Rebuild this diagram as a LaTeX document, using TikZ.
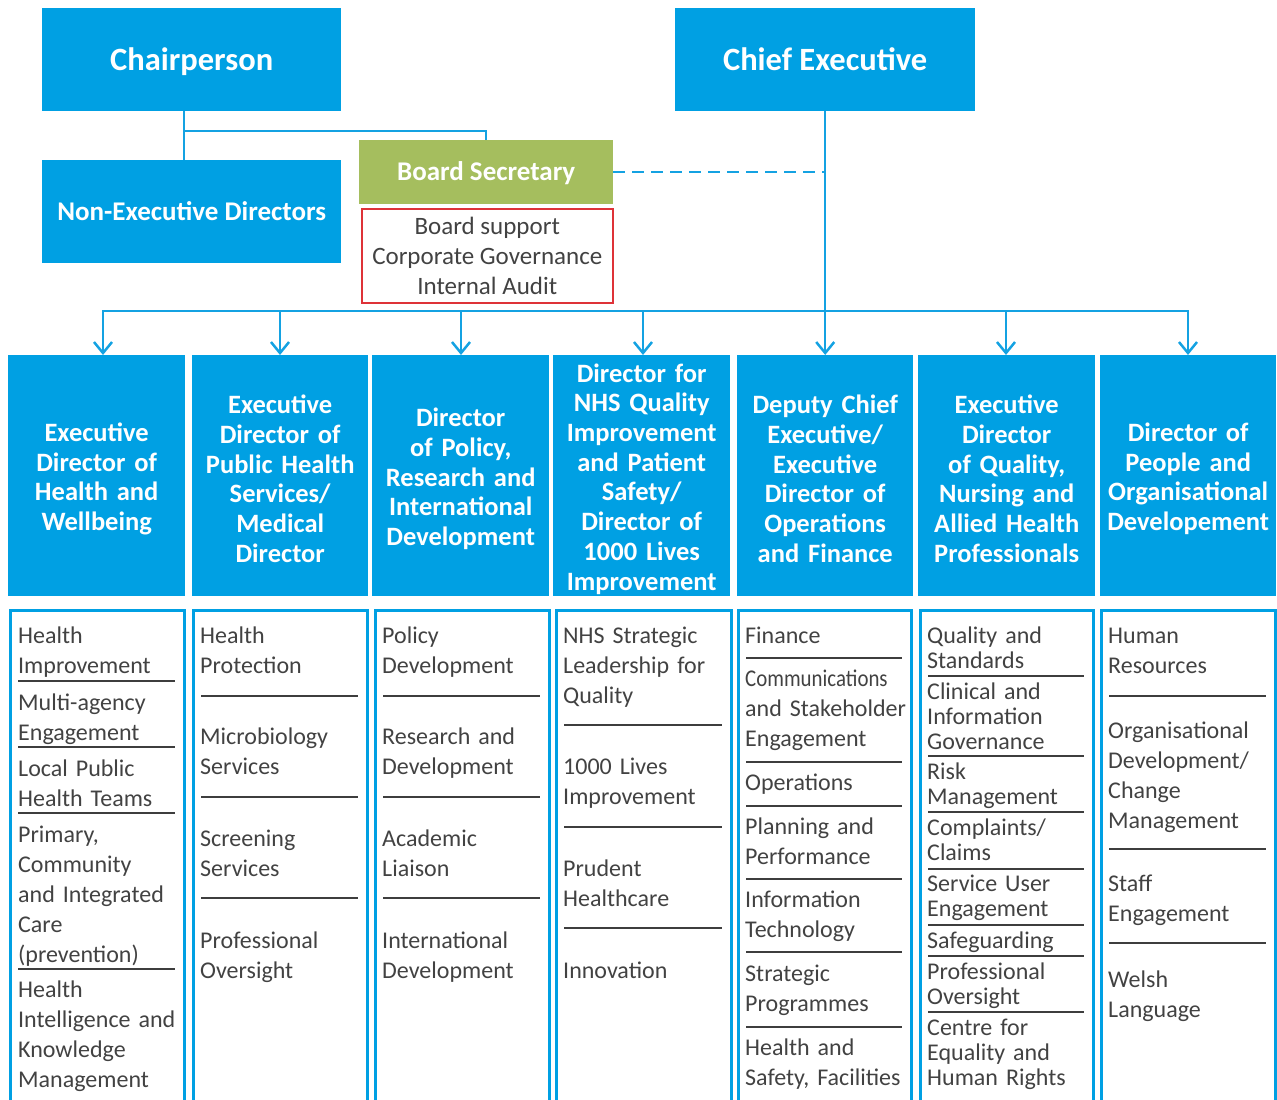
\documentclass[tikz,border=0pt]{standalone}
\usepackage{fontspec}
\usepackage{graphicx}
\setmainfont{Carlito}
\usetikzlibrary{arrows.meta}
\definecolor{nhsblue}{RGB}{0,160,227}
\definecolor{lineblue}{RGB}{20,162,226}
\definecolor{bsgreen}{RGB}{165,190,94}
\definecolor{bsred}{RGB}{222,50,56}
\definecolor{sepgray}{RGB}{62,62,62}
\definecolor{itemgray}{RGB}{66,66,66}
\newcommand\boxnode[7]{%
  \node[#6, anchor=north west, inner sep=0pt,
        minimum width={(#4-#2)*1pt}, minimum height={(#5-#3)*1pt}] (#1) at (#2,#3) {#7};}
\newcommand\itm[5][]{\node[itm,#1] (#2) at (#3,#4-20) {\rule{0pt}{20pt}#5};}
\newcommand\sepl[3]{\draw[sepline] (#1,#3) -- (#2,#3);}
\newcommand\dtop{\rule{0pt}{25pt}}
\begin{document}
\begin{tikzpicture}[x=1pt,y=-1pt,
  conn/.style={draw=lineblue, line width=2.5pt},
  bluebox/.style={fill=nhsblue, text=white, font=\bfseries\fontsize{27}{30}\selectfont, text height=17.4pt, text depth=0pt},
  bigbox/.style={fill=nhsblue, text=white, font=\bfseries\fontsize{32.5}{36}\selectfont, text height=21pt, text depth=0pt},
  greenbox/.style={fill=bsgreen, text=white, font=\bfseries\fontsize{27}{30}\selectfont, text height=17.4pt, text depth=0pt},
  redbox/.style={draw=bsred, line width=1.5pt, text=itemgray, font=\fontsize{25}{30}\selectfont, align=center},
  dirbox/.style={fill=nhsblue, text=white, font=\bfseries\fontsize{26.5}{29.7}\selectfont, align=center, text width=176pt},
  listbox/.style={draw=nhsblue, line width=2.7pt},
  itm/.style={anchor=north west, inner sep=0pt, text width=172pt, align=left, text=itemgray, font=\fontsize{24}{30}\selectfont},
  tight/.style={font=\fontsize{24}{25}\selectfont},
  sepline/.style={draw=sepgray, line width=2pt},
  tip/.style={-{Straight Barb[length=11pt,width=18pt]}},
  tips/.style={{Straight Barb[length=11pt,width=18pt]}-{Straight Barb[length=11pt,width=18pt]}}
]
\useasboundingbox (0,0) rectangle (1277,1100);

% top level
\boxnode{chair}{42}{8}{341}{111}{bigbox}{Chairperson}
\boxnode{ce}{675}{8}{975}{111}{bigbox}{Chief Executive}
\boxnode{nonexec}{42}{160}{341}{263}{bluebox}{Non-Executive Directors}
\boxnode{bs}{359}{140}{613}{204}{greenbox}{Board Secretary}
\boxnode{bsr}{361}{208}{612}{302}{redbox}{Board support\\Corporate Governance\\Internal Audit}

% directors
\boxnode{d1}{8}{355}{185}{596}{dirbox}{\dtop Executive\\Director of\\Health and\\Wellbeing}
\boxnode{d2}{192}{355}{368}{596}{dirbox}{\dtop Executive\\Director of\\Public Health\\Services/\\Medical\\Director}
\boxnode{d3}{372}{355}{549}{596}{dirbox}{\dtop Director\\of Policy,\\Research and\\International\\Development}
\boxnode{d4}{553}{355}{730}{596}{dirbox}{\dtop Director for\\NHS Quality\\Improvement\\and Patient\\Safety/\\Director of\\1000 Lives\\Improvement}
\boxnode{d5}{737}{355}{913}{596}{dirbox}{\dtop Deputy Chief\\Executive/\\Executive\\Director of\\Operations\\and Finance}
\boxnode{d6}{918}{355}{1095}{596}{dirbox}{\dtop Executive\\Director\\of Quality,\\Nursing and\\Allied Health\\Professionals}
\boxnode{d7}{1100}{355}{1276}{596}{dirbox}{\dtop Director of\\People and\\Organisational\\Developement}

% list boxes
\boxnode{l1}{9}{609}{183}{1112}{listbox}{}
\boxnode{l2}{192}{609}{366}{1112}{listbox}{}
\boxnode{l3}{374}{609}{548}{1112}{listbox}{}
\boxnode{l4}{555}{609}{730}{1112}{listbox}{}
\boxnode{l5}{737}{609}{910}{1112}{listbox}{}
\boxnode{l6}{919}{609}{1092}{1112}{listbox}{}
\boxnode{l7}{1100}{609}{1274}{1112}{listbox}{}

% connectors
\coordinate (cj) at (184,131);
\draw[conn] (chair.south -| cj) -- (nonexec.north -| cj);
\draw[conn] (cj) -| (bs.north);
\draw[conn, dash pattern=on 12pt off 7pt] (bs.east) -- (bs.east -| ce.south);
\coordinate (b1) at (103,311);
\coordinate (b2) at (280,311);
\coordinate (b3) at (461,311);
\coordinate (b4) at (643,311);
\coordinate (b6) at (1006,311);
\coordinate (b7) at (1188,311);
\draw[conn, tips, line join=miter] (b1 |- d1.north) -- (b1) -- (b7) -- (b7 |- d7.north);
\draw[conn, tip] (b2) -- (b2 |- d2.north);
\draw[conn, tip] (b3) -- (b3 |- d3.north);
\draw[conn, tip] (b4) -- (b4 |- d4.north);
\draw[conn, tip] (ce.south) -- (ce.south |- d5.north);
\draw[conn, tip] (b6) -- (b6 |- d6.north);

% column 1
\itm{c1a}{18}{643}{Health\\Improvement}
\sepl{18}{175}{681}
\itm{c1b}{18}{710}{Multi-agency\\Engagement}
\sepl{18}{175}{747}
\itm{c1c}{18}{776}{Local Public\\Health Teams}
\sepl{18}{175}{813}
\itm{c1d}{18}{842}{Primary,\\Community\\and Integrated\\Care\\(prevention)}
\sepl{18}{175}{969}
\itm{c1e}{18}{997}{Health\\Intelligence and\\Knowledge\\Management}

% column 2
\itm{c2a}{200}{643}{Health\\Protection}
\sepl{201}{358}{696}
\itm{c2b}{200}{744}{Microbiology\\Services}
\sepl{201}{358}{797}
\itm{c2c}{200}{846}{Screening\\Services}
\sepl{201}{358}{898}
\itm{c2d}{200}{948}{Professional\\Oversight}

% column 3
\itm{c3a}{382}{643}{Policy\\Development}
\sepl{383}{540}{696}
\itm{c3b}{382}{744}{Research and\\Development}
\sepl{383}{540}{797}
\itm{c3c}{382}{846}{Academic\\Liaison}
\sepl{383}{540}{898}
\itm{c3d}{382}{948}{International\\Development}

% column 4
\itm{c4a}{563}{643}{NHS Strategic\\Leadership for\\Quality}
\sepl{564}{722}{725}
\itm{c4b}{563}{774}{1000 Lives\\Improvement}
\sepl{564}{722}{827}
\itm{c4c}{563}{876}{Prudent\\Healthcare}
\sepl{564}{722}{928}
\itm{c4d}{563}{978}{Innovation}

% column 5
\itm{c5a}{745}{643}{Finance}
\sepl{746}{902}{658}
\itm{c5b}{745}{686}{\scalebox{0.87}[1]{Communications}\\and Stakeholder\\Engagement}
\sepl{746}{902}{762}
\itm{c5c}{745}{790}{Operations}
\sepl{746}{902}{806}
\itm{c5d}{745}{834}{Planning and\\Performance}
\sepl{746}{902}{879}
\itm{c5e}{745}{907}{Information\\Technology}
\sepl{746}{902}{952}
\itm{c5f}{745}{981}{Strategic\\Programmes}
\sepl{746}{902}{1027}
\itm{c5g}{745}{1055}{Health and\\Safety, Facilities}

% column 6
\itm[tight]{c6a}{927}{643}{Quality and\\Standards}
\sepl{928}{1084}{676}
\itm[tight]{c6b}{927}{699}{Clinical and\\Information\\Governance}
\sepl{928}{1084}{756}
\itm[tight]{c6c}{927}{779}{Risk\\Management}
\sepl{928}{1084}{812}
\itm[tight]{c6d}{927}{835}{Complaints/\\Claims}
\sepl{928}{1084}{869}
\itm[tight]{c6e}{927}{891}{Service User\\Engagement}
\sepl{928}{1084}{925}
\itm[tight]{c6f}{927}{948}{Safeguarding}
\sepl{928}{1084}{956}
\itm[tight]{c6g}{927}{979}{Professional\\Oversight}
\sepl{928}{1084}{1012}
\itm[tight]{c6h}{927}{1035}{Centre for\\Equality and\\Human Rights}

% column 7
\itm{c7a}{1108}{643}{Human\\Resources}
\sepl{1109}{1266}{696}
\itm{c7b}{1108}{738}{Organisational\\Development/\\Change\\Management}
\sepl{1109}{1266}{849}
\itm{c7c}{1108}{891}{Staff\\Engagement}
\sepl{1109}{1266}{943}
\itm{c7d}{1108}{987}{Welsh\\Language}
\end{tikzpicture}
\end{document}
